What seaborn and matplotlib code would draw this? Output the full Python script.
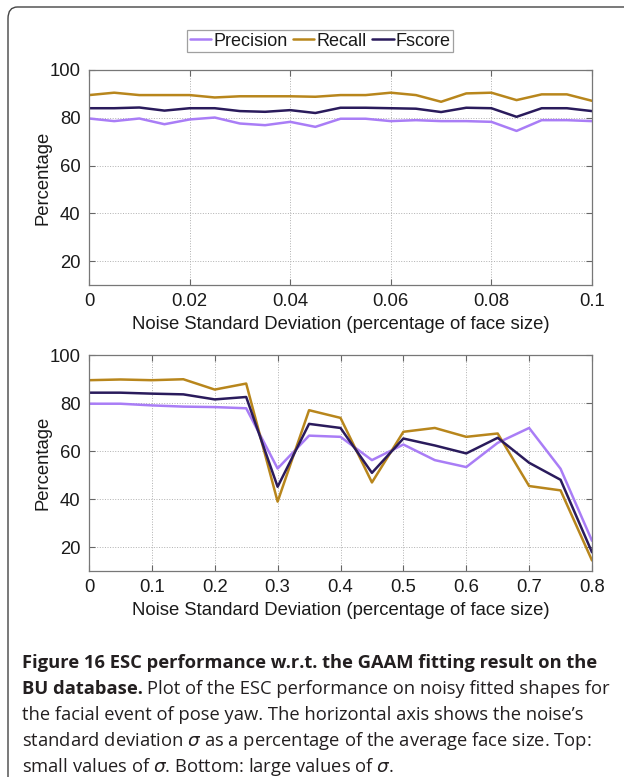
import numpy as np
import pandas as pd
import matplotlib
matplotlib.use("Agg")
import matplotlib.pyplot as plt
import seaborn as sns
from matplotlib.patches import FancyBboxPatch

# ---------------- data ----------------
top_x = [0, 0.005, 0.01, 0.015, 0.02, 0.025, 0.03, 0.035, 0.04, 0.045, 0.05,
         0.055, 0.06, 0.065, 0.07, 0.075, 0.08, 0.085, 0.09, 0.095, 0.1]
top_precision = [79.7, 78.6, 79.7, 77.3, 79.3, 80.1, 77.6, 76.9, 78.3, 76.2, 79.6,
                 79.6, 78.6, 79.0, 78.6, 78.6, 78.3, 74.5, 79.0, 79.0, 78.6]
top_recall = [89.5, 90.5, 89.5, 89.5, 89.5, 88.5, 89.0, 89.0, 89.0, 88.8, 89.5,
              89.5, 90.5, 89.5, 86.7, 90.2, 90.5, 87.4, 89.8, 89.8, 87.1]
top_fscore = [84.0, 84.0, 84.3, 83.0, 84.0, 84.0, 82.8, 82.5, 83.2, 82.0, 84.2,
              84.2, 84.0, 83.8, 82.4, 84.2, 84.0, 80.4, 84.0, 84.0, 82.8]

bot_x = [0, 0.05, 0.1, 0.15, 0.2, 0.25, 0.3, 0.35, 0.4, 0.45, 0.5,
         0.55, 0.6, 0.65, 0.7, 0.75, 0.8]
bot_precision = [79.7, 79.7, 79.0, 78.5, 78.3, 77.8, 52.7, 66.4, 65.9, 56.2, 62.7,
                 56.2, 53.3, 63.4, 69.6, 52.6, 22.6]
bot_recall = [89.5, 89.8, 89.5, 89.9, 85.6, 88.1, 38.9, 77.0, 73.8, 46.9, 68.0,
              69.6, 65.9, 67.3, 45.4, 43.6, 14.4]
bot_fscore = [84.3, 84.3, 83.9, 83.6, 81.5, 82.5, 45.1, 71.3, 69.6, 50.9, 65.2,
              62.3, 59.0, 65.5, 55.1, 48.0, 17.8]

series_names = ["Precision", "Recall", "Fscore"]
top_ticks = [0, 0.02, 0.04, 0.06, 0.08, 0.1]
top_ticklabels = ["0", "0.02", "0.04", "0.06", "0.08", "0.1"]
bot_ticks = [0, 0.1, 0.2, 0.3, 0.4, 0.5, 0.6, 0.7, 0.8]
bot_ticklabels = ["0", "0.1", "0.2", "0.3", "0.4", "0.5", "0.6", "0.7", "0.8"]
y_ticks = [20, 40, 60, 80, 100]

xlabel = "Noise Standard Deviation (percentage of face size)"
ylabel = "Percentage"

palette = {"Precision": "#a97df6", "Recall": "#b8861c", "Fscore": "#2a1b5c"}


def long_df(x, p, r, f):
    rows = []
    for name, vals in zip(series_names, [p, r, f]):
        for xi, v in zip(x, vals):
            rows.append({"x": xi, "value": v, "series": name})
    return pd.DataFrame(rows)


df_top = long_df(top_x, top_precision, top_recall, top_fscore)
df_bot = long_df(bot_x, bot_precision, bot_recall, bot_fscore)

sns.set_theme(style="white")
plt.rcParams["font.family"] = ["Liberation Sans", "DejaVu Sans"]

fig = plt.figure(figsize=(6.24, 7.77), dpi=100)
W, H = 624, 777

# rounded border box
box = FancyBboxPatch((8 / W, 1 - 1200 / H), 700 / W, 1193 / H,
                     boxstyle="round,pad=0,rounding_size=0.015",
                     transform=fig.transFigure, fill=False,
                     edgecolor="#444444", linewidth=1.0)
fig.patches.append(box)

ax1 = fig.add_axes([89 / W, 1 - 285 / H, (592 - 89) / W, 215 / H])
ax2 = fig.add_axes([89 / W, 1 - 571 / H, (592 - 89) / W, 216 / H])

for ax, df, xt, xtl, xmax in [(ax1, df_top, top_ticks, top_ticklabels, 0.1),
                              (ax2, df_bot, bot_ticks, bot_ticklabels, 0.8)]:
    sns.lineplot(data=df, x="x", y="value", hue="series", palette=palette,
                 hue_order=series_names, linewidth=1.8, ax=ax, legend=(ax is ax1))
    ax.set_xlim(0, xmax)
    ax.set_ylim(10, 100)
    ax.set_xticks(xt)
    ax.set_xticklabels(xtl)
    ax.set_yticks(y_ticks)
    ax.grid(True, linestyle=":", color="#b0b0b0", linewidth=0.7)
    ax.set_axisbelow(True)
    for s in ax.spines.values():
        s.set_color("#777777")
        s.set_linewidth(0.9)
    ax.tick_params(direction="in", length=4, width=0.8, color="#666666",
                   labelsize=13.3, labelcolor="#1a1a1a", pad=6,
                   top=True, right=True, bottom=True, left=True)
    ax.set_xlabel(xlabel, fontsize=13.3, color="#1a1a1a", labelpad=4)
    ax.set_ylabel(ylabel, fontsize=13.3, color="#1a1a1a", labelpad=-1)

leg = ax1.legend(loc="center", bbox_to_anchor=(320 / W, 1 - 41 / H),
                 bbox_transform=fig.transFigure, ncol=3, frameon=True,
                 fontsize=13, handlelength=1.2, handletextpad=0.1,
                 columnspacing=0.3, borderpad=0.15, fancybox=False)
leg.get_frame().set_edgecolor("#888888")
leg.get_frame().set_linewidth(0.9)
for t in leg.get_texts():
    t.set_color("#1a1a1a")

# ---------------- caption ----------------
cap_font = ["Open Sans", "DejaVu Sans"]
cap_size = 13.2
cap_color = "#231f20"
x0 = 22 / W
lines_y = [668, 694, 720, 746]

fig.text(x0, 1 - lines_y[0] / H,
         "Figure 16 ESC performance w.r.t. the GAAM fitting result on the",
         fontsize=cap_size, fontweight="bold", family=cap_font, color=cap_color,
         va="baseline")
bold2 = fig.text(x0, 1 - lines_y[1] / H, "BU database.", fontsize=cap_size,
                 fontweight="bold", family=cap_font, color=cap_color, va="baseline")
fig.canvas.draw()
bb = bold2.get_window_extent(renderer=fig.canvas.get_renderer())
fig.text(bb.x1 / W + 4 / W, 1 - lines_y[1] / H,
         "Plot of the ESC performance on noisy fitted shapes for",
         fontsize=cap_size, family=cap_font, color=cap_color, va="baseline")
fig.text(x0, 1 - lines_y[2] / H,
         "the facial event of pose yaw. The horizontal axis shows the noise\u2019s",
         fontsize=cap_size, family=cap_font, color=cap_color, va="baseline")
fig.text(x0, 1 - lines_y[3] / H,
         r"standard deviation $\sigma$ as a percentage of the average face size. Top:",
         fontsize=cap_size, family=cap_font, color=cap_color, va="baseline")
fig.text(x0, 1 - 772 / H,
         r"small values of $\sigma$. Bottom: large values of $\sigma$.",
         fontsize=cap_size, family=cap_font, color=cap_color, va="baseline")

fig.savefig("out.png", dpi=100)
